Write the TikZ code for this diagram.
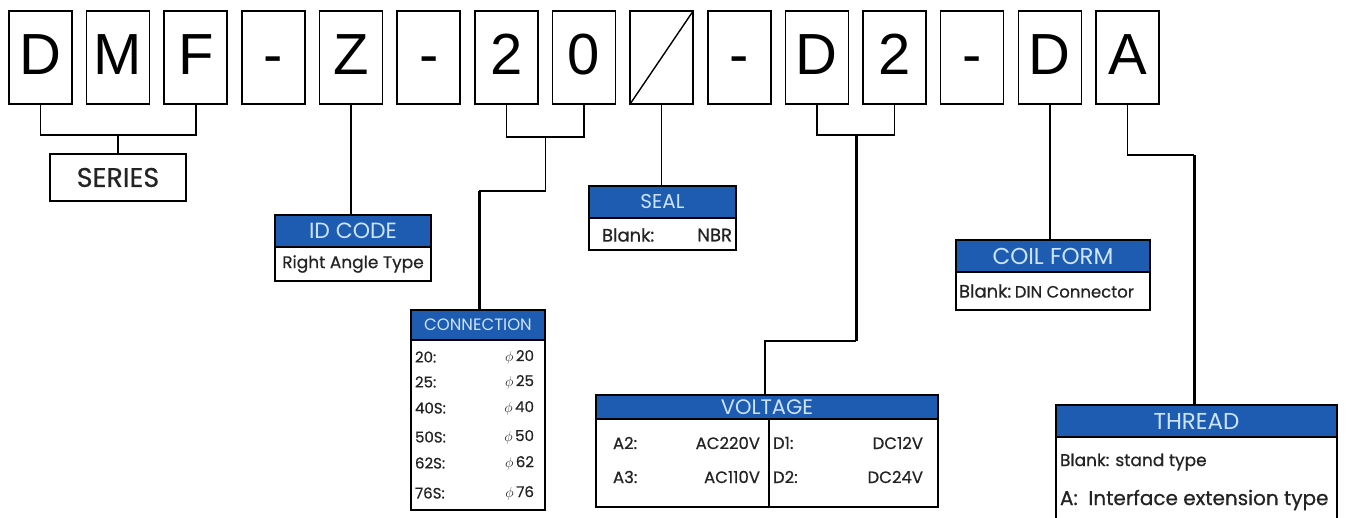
\documentclass[tikz,border=0pt]{standalone}
\usepackage{fontspec}
\setmainfont{Poppins}
\newfontfamily\codefont{Liberation Sans}
\newfontfamily\bodyfont[FakeBold=0.6]{Poppins}
\usetikzlibrary{positioning,calc}
\definecolor{headblue}{RGB}{30,92,178}
\definecolor{headtext}{RGB}{205,228,255}
\definecolor{bodytext}{RGB}{35,35,35}

\begin{document}
\begin{tikzpicture}[
			x=1pt,y=-1pt,
			every node/.style={inner sep=0pt,outer sep=0pt},
			codebox/.style={draw,line width=1.6pt,minimum width=63pt,minimum height=93pt,text height=43pt,text depth=8pt,font=\codefont\fontsize{58}{58}\selectfont},
			headbox/.style={draw,line width=1.4pt,fill=headblue,text=headtext},
			bodybox/.style={draw,line width=1.4pt},
			link/.style={line width=1.5pt},
			thicklink/.style={line width=3pt},
			bodyfont/.style={text=bodytext,font=\bodyfont\fontsize{#1}{#1}\selectfont},
		]
		\useasboundingbox (0,0) rectangle (1346,518);
		
		% code letters
		\foreach \ch [count=\i] in {D,M,F,-,Z,-,2,0,{},-,D,2,-,D,A}
			\node[codebox] (c\i) at ({40.5+(\i-1)*77.64},57.5) {\ch};
		\draw[line width=1.4pt] (c9.south west) -- (c9.north east);
		
		% series
		\node[bodybox,minimum width=136pt,minimum height=47pt,bodyfont=27] (series) at (118,177.5) {SERIES};
		\coordinate (sj) at (118,135);
		\draw[link] (c1.south) |- (sj) -| (c3.south);
		\draw[link] (sj) -- (series.north);
		
		% id code
		\node[headbox,minimum width=156pt,minimum height=32pt,font=\fontsize{22}{22}\selectfont] (idhead) at (353,231) {ID CODE};
		\node[bodybox,minimum width=156pt,minimum height=34pt,below=0pt of idhead,bodyfont=17] (idbody) {Right Angle Type};
		\draw[link] (c5.south) -- (c5.south |- idhead.north);
		
		% connection
		\node[headbox,minimum width=134pt,minimum height=30pt,font=\fontsize{16.5}{16.5}\selectfont] (connhead) at (478,325) {CONNECTION};
		\node[bodybox,minimum width=134pt,minimum height=170pt,below=0pt of connhead] (connbody) {};
		\foreach \lab/\val/\y in {20:/20/357,25:/25/382,40S:/40/408,50S:/50/437,62S:/62/463,76S:/76/493} {
			\node[anchor=west,bodyfont=15] (connkey\val) at (415,\y) {\lab};
			\node[anchor=east,bodyfont=15] (connval\val) at (534,\y) {$\phi$\,\val};
		}
		\coordinate (cj) at (545.5,137);
		\coordinate (ck) at (545.5,191);
		\coordinate (cl) at (479,191);
		\draw[link] (c7.south) |- (cj) -| (c8.south);
		\draw[link] (cj) -- (ck) -- (cl);
		\draw[thicklink] (cl) -- (cl |- connhead.north);
		
		% seal
		\node[headbox,minimum width=147pt,minimum height=32pt,font=\fontsize{20}{20}\selectfont] (sealhead) at (662.5,202) {SEAL};
		\node[bodybox,minimum width=147pt,minimum height=32pt,below=0pt of sealhead] (sealbody) {};
		\node[anchor=west,bodyfont=18] (sealkey) at (602,235) {Blank:};
		\node[anchor=east,bodyfont=18] (sealval) at (732,235) {NBR};
		\draw[link] (c9.south) -- (c9.south |- sealhead.north);
		
		% voltage
		\node[headbox,minimum width=342pt,minimum height=24pt,font=\fontsize{21}{21}\selectfont] (volthead) at (767,407) {VOLTAGE};
		\node[bodybox,minimum width=342pt,minimum height=88pt,below=0pt of volthead] (voltbody) {};
		\coordinate (vm) at (769,0);
		\draw[line width=1.4pt] (voltbody.north -| vm) -- (voltbody.south -| vm);
		\foreach \a/\av/\d/\dv/\y in {A2:/AC220V/D1:/DC12V/443,A3:/AC110V/D2:/DC24V/477} {
			\node[anchor=west,bodyfont=16.5] (voltkey\a) at (613,\y) {\a};
			\node[anchor=east,bodyfont=16.5] (voltval\a) at (760,\y) {\av};
			\node[anchor=west,bodyfont=16.5] (voltkey\d) at (773,\y) {\d};
			\node[anchor=east,bodyfont=16.5] (voltval\d) at (923,\y) {\dv};
		}
		\coordinate (vj) at (856,135);
		\coordinate (vk) at (856,341);
		\coordinate (vl) at (765,341);
		\draw[link] (c11.south) |- (vj) -| (c12.south);
		\draw[thicklink] (vj) -- (vk);
		\draw[link] (vk) -- (vl) -- (vl |- volthead.north);
		
		% coil form
		\node[headbox,minimum width=194pt,minimum height=32pt,font=\fontsize{23}{23}\selectfont] (coilhead) at (1053,256) {COIL FORM};
		\node[bodybox,minimum width=194pt,minimum height=38pt,below=0pt of coilhead] (coilbody) {};
		\node[anchor=west,text=bodytext] (coiltext) at (959,291) {{\bodyfont\fontsize{18}{18}\selectfont Blank:} {\bodyfont\fontsize{16.5}{16.5}\selectfont DIN Connector}};
		\draw[link] (c14.south) -- (c14.south |- coilhead.north);
		
		% thread
		\node[headbox,minimum width=281pt,minimum height=32pt,font=\fontsize{23}{23}\selectfont] (threadhead) at (1196.5,421) {THREAD};
		\node[bodybox,minimum width=281pt,minimum height=100pt,below=0pt of threadhead] (threadbody) {};
		\node[anchor=west,bodyfont=17] (threadblank) at (1060,462) {Blank: stand type};
		\node[anchor=west,bodyfont=20] (threada) at (1060,500) {A:\ \ Interface extension type};
		\coordinate (tj) at (1194,155);
		\draw[link] (c15.south) |- (tj);
		\draw[thicklink] (tj) -- (tj |- threadhead.north);
		
	\end{tikzpicture}
\end{document}
